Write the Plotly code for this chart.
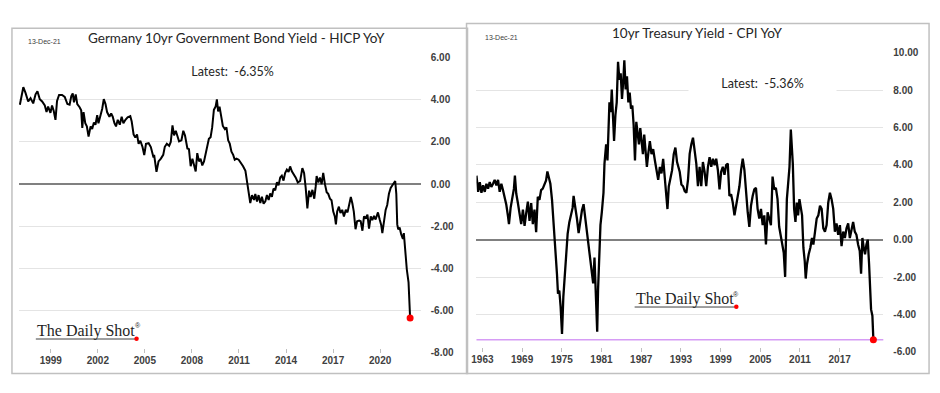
import plotly.graph_objects as go

W, H = 940, 393


def px(x):
    return x / W


def py(y):
    return 1 - y / H


# ---------------- data ----------------
de_year = [1997.03, 1997.25, 1997.39, 1997.56, 1997.71, 1997.88, 1998.03, 1998.15, 1998.30, 1998.45,
           1998.62, 1998.73, 1998.83, 1998.98, 1999.08, 1999.19, 1999.30, 1999.40, 1999.53, 1999.72,
           1999.89, 2000.06, 2000.20, 2000.31, 2000.40, 2000.48, 2000.59, 2000.69, 2000.84, 2000.94,
           2001.01, 2001.09, 2001.20, 2001.30, 2001.41, 2001.54, 2001.64, 2001.75, 2001.85, 2001.96,
           2002.04, 2002.15, 2002.28, 2002.38, 2002.49, 2002.59, 2002.74, 2002.85, 2002.95, 2003.06,
           2003.16, 2003.27, 2003.40, 2003.52, 2003.63, 2003.76, 2003.90, 2004.07, 2004.16, 2004.28,
           2004.39, 2004.50, 2004.60, 2004.71, 2004.85, 2004.96, 2005.07, 2005.24, 2005.38, 2005.55,
           2005.59, 2005.74, 2005.87, 2006.02, 2006.17, 2006.27, 2006.40, 2006.55, 2006.65, 2006.76,
           2006.86, 2006.97, 2007.07, 2007.18, 2007.33, 2007.45, 2007.56, 2007.71, 2007.81, 2007.92,
           2008.03, 2008.13, 2008.24, 2008.34, 2008.45, 2008.55, 2008.66, 2008.77, 2008.87, 2008.98,
           2009.08, 2009.19, 2009.29, 2009.40, 2009.51, 2009.59, 2009.67, 2009.76, 2009.86, 2009.97,
           2010.10, 2010.20, 2010.31, 2010.41, 2010.52, 2010.63, 2010.73, 2010.84, 2010.98, 2011.13,
           2011.26, 2011.41, 2011.51, 2011.62, 2011.72, 2011.83, 2011.96, 2012.04, 2012.15, 2012.25,
           2012.36, 2012.46, 2012.57, 2012.68, 2012.78, 2012.89, 2012.99, 2013.10, 2013.20, 2013.31,
           2013.42, 2013.52, 2013.63, 2013.73, 2013.84, 2013.94, 2014.05, 2014.16, 2014.26, 2014.37,
           2014.47, 2014.62, 2014.75, 2014.90, 2015.04, 2015.15, 2015.25, 2015.36, 2015.47, 2015.57,
           2015.68, 2015.80, 2015.89, 2015.95, 2016.06, 2016.16, 2016.27, 2016.37, 2016.48, 2016.59,
           2016.69, 2016.80, 2016.90, 2017.01, 2017.11, 2017.18, 2017.26, 2017.37, 2017.47, 2017.58,
           2017.69, 2017.81, 2017.92, 2018.02, 2018.13, 2018.23, 2018.32, 2018.43, 2018.53, 2018.66,
           2018.76, 2018.87, 2018.97, 2019.08, 2019.19, 2019.29, 2019.40, 2019.50, 2019.61, 2019.71,
           2019.86, 2019.97, 2020.07, 2020.14, 2020.24, 2020.35, 2020.45, 2020.56, 2020.67, 2020.77,
           2020.88, 2020.96, 2021.03, 2021.09, 2021.15, 2021.24, 2021.34, 2021.45, 2021.51, 2021.62,
           2021.70, 2021.81, 2021.91]
de_value = [3.77, 4.60, 4.33, 3.92, 4.08, 3.83, 4.26, 4.41, 4.03, 3.92,
            3.73, 3.42, 3.68, 3.38, 3.73, 3.47, 3.05, 3.95, 4.23, 4.23,
            4.14, 3.80, 3.77, 4.18, 4.30, 3.88, 4.26, 3.80, 3.65, 3.50,
            2.67, 3.42, 2.89, 2.74, 2.26, 2.74, 2.62, 2.92, 2.82, 3.27,
            2.89, 3.17, 3.58, 4.03, 3.80, 3.42, 3.20, 3.35, 3.20, 2.89,
            2.74, 3.05, 2.82, 3.20, 2.89, 3.05, 3.17, 3.23, 2.97, 2.36,
            2.21, 2.36, 1.91, 2.06, 1.76, 1.38, 1.91, 1.94, 1.76, 1.26,
            1.39, 0.58, 1.08, 1.21, 1.39, 1.77, 1.92, 1.82, 2.00, 2.79,
            2.31, 2.53, 2.23, 2.03, 2.08, 2.53, 2.31, 1.69, 1.66, 0.85,
            1.21, 0.85, 0.60, 1.47, 1.08, 1.21, 0.89, 1.08, 1.47, 1.85,
            2.15, 2.23, 2.69, 3.53, 3.68, 4.02, 3.45, 3.68, 3.22, 2.76,
            2.61, 2.69, 2.08, 1.92, 1.54, 1.39, 1.16, 1.21, 1.16, 1.01,
            0.85, 0.63, 0.17, -0.29, -0.90, -0.52, -0.75, -0.47, -0.82, -0.52,
            -0.90, -0.60, -0.93, -0.82, -0.52, -0.75, -0.44, -0.60, -0.21, -0.29,
            0.09, -0.06, 0.32, 0.40, 0.17, 0.53, 0.69, 0.58, 0.84, 0.61,
            0.49, 0.31, 0.08, 0.15, 0.76, 0.53, -0.15, -1.15, -0.31, -0.61,
            -0.27, -0.69, -0.12, 0.38, 0.08, 0.31, 0.00, 0.53, 0.00, -0.38,
            -0.46, -0.69, -0.76, -1.30, -1.53, -1.91, -1.30, -1.07, -1.37, -1.22,
            -1.53, -1.22, -1.34, -0.92, -0.61, -0.92, -1.30, -2.14, -1.76, -1.73,
            -1.76, -2.21, -1.53, -1.60, -1.45, -2.11, -1.53, -1.71, -1.50, -1.68,
            -1.34, -1.68, -1.95, -2.32, -1.68, -1.22, -0.99, -0.46, -0.18, -0.05,
            0.08, 0.15, -0.46, -1.91, -2.14, -2.06, -2.37, -2.60, -2.32, -3.66,
            -4.05, -4.66, -6.35]

us_year = [1962.10, 1962.35, 1962.60, 1962.85, 1963.10, 1963.35, 1963.60, 1963.85, 1964.10, 1964.35,
           1964.60, 1964.85, 1965.11, 1965.36, 1965.61, 1965.86, 1966.11, 1966.36, 1966.61, 1966.86,
           1967.01, 1967.26, 1967.51, 1967.76, 1967.91, 1968.11, 1968.36, 1968.61, 1968.86, 1969.12,
           1969.37, 1969.62, 1969.87, 1970.12, 1970.37, 1970.62, 1970.87, 1971.12, 1971.37, 1971.62,
           1971.87, 1972.12, 1972.37, 1972.62, 1972.82, 1973.02, 1973.27, 1973.52, 1973.77, 1974.02,
           1974.27, 1974.42, 1974.62, 1974.82, 1975.03, 1975.23, 1975.43, 1975.63, 1975.88, 1976.13,
           1976.38, 1976.63, 1976.78, 1977.04, 1977.29, 1977.54, 1977.79, 1978.04, 1978.29, 1978.54,
           1978.79, 1979.04, 1979.29, 1979.54, 1979.74, 1979.94, 1980.14, 1980.35, 1980.48, 1980.64,
           1980.84, 1981.05, 1981.30, 1981.45, 1981.70, 1981.90, 1982.05, 1982.20, 1982.40, 1982.55,
           1982.75, 1982.90, 1983.10, 1983.30, 1983.50, 1983.70, 1983.90, 1984.10, 1984.30, 1984.45,
           1984.65, 1984.85, 1985.06, 1985.26, 1985.46, 1985.66, 1985.86, 1986.06, 1986.26, 1986.46,
           1986.66, 1986.86, 1987.06, 1987.26, 1987.46, 1987.66, 1987.86, 1988.06, 1988.31, 1988.56,
           1988.81, 1989.07, 1989.32, 1989.57, 1989.82, 1990.07, 1990.32, 1990.57, 1990.82, 1990.97,
           1991.17, 1991.42, 1991.67, 1991.92, 1992.17, 1992.42, 1992.57, 1992.82, 1993.08, 1993.33,
           1993.58, 1993.83, 1994.08, 1994.33, 1994.58, 1994.83, 1995.08, 1995.33, 1995.58, 1995.83,
           1996.08, 1996.33, 1996.58, 1996.83, 1997.09, 1997.34, 1997.59, 1997.84, 1998.09, 1998.34,
           1998.59, 1998.84, 1999.09, 1999.34, 1999.59, 1999.84, 2000.09, 2000.34, 2000.59, 2000.84,
           2001.10, 2001.35, 2001.60, 2001.85, 2002.10, 2002.35, 2002.60, 2002.85, 2003.10, 2003.35,
           2003.60, 2003.85, 2004.10, 2004.35, 2004.60, 2004.85, 2005.11, 2005.36, 2005.61, 2005.86,
           2006.11, 2006.36, 2006.61, 2006.86, 2007.11, 2007.36, 2007.61, 2007.86, 2008.11, 2008.36,
           2008.55, 2008.76, 2008.88, 2009.02, 2009.22, 2009.42, 2009.62, 2009.77, 2009.92, 2010.12,
           2010.32, 2010.52, 2010.72, 2010.92, 2011.12, 2011.32, 2011.52, 2011.72, 2011.87, 2012.07,
           2012.32, 2012.57, 2012.82, 2013.03, 2013.28, 2013.53, 2013.78, 2014.03, 2014.28, 2014.53,
           2014.78, 2015.03, 2015.28, 2015.53, 2015.78, 2016.03, 2016.28, 2016.53, 2016.78, 2017.04,
           2017.29, 2017.54, 2017.79, 2018.04, 2018.29, 2018.54, 2018.79, 2019.04, 2019.29, 2019.54,
           2019.79, 2020.04, 2020.24, 2020.44, 2020.64, 2020.84, 2021.05, 2021.25, 2021.45, 2021.60,
           2021.75, 2021.95, 2022.10]
us_value = [3.43, 2.56, 3.08, 2.51, 2.91, 2.56, 2.99, 2.73, 3.08, 2.82,
            2.99, 3.20, 2.91, 3.20, 2.56, 2.99, 2.65, 2.30, 1.87, 1.26,
            0.83, 1.70, 2.30, 2.73, 3.43, 2.47, 1.96, 1.26, 0.83, 1.61,
            0.74, 1.44, 2.04, 1.00, 1.96, 0.83, 1.61, 0.40, 2.30, 2.13,
            2.65, 2.73, 2.99, 3.17, 3.65, 3.34, 2.99, 2.13, 0.92, -0.47,
            -1.85, -2.89, -2.72, -3.58, -5.05, -3.06, -1.85, -0.81, 0.31, 0.92,
            1.35, 1.70, 2.34, 1.82, 1.12, 0.35, 1.12, 1.56, 1.90, 1.21,
            0.43, -0.09, -0.78, -1.64, -2.34, -0.95, -3.03, -4.93, -2.68, -0.78,
            0.78, 1.47, 2.51, 4.07, 5.10, 4.24, 6.14, 7.35, 6.83, 8.04,
            6.49, 5.28, 6.66, 7.35, 9.52, 8.56, 8.91, 7.53, 8.56, 9.60,
            8.04, 8.74, 7.35, 7.87, 7.01, 7.18, 6.14, 4.24, 6.31, 5.80,
            5.10, 5.97, 5.28, 4.58, 5.62, 4.76, 3.89, 4.58, 5.28, 4.58,
            4.84, 4.24, 3.63, 3.20, 3.89, 3.55, 4.33, 3.37, 2.51, 1.64,
            2.85, 3.37, 3.72, 4.58, 4.93, 4.15, 3.90, 3.64, 2.95, 2.86,
            2.60, 2.51, 3.21, 4.59, 5.11, 5.46, 4.77, 4.07, 2.86, 3.90,
            2.86, 4.16, 3.64, 2.86, 3.90, 4.42, 3.90, 4.33, 3.99, 4.33,
            3.73, 2.69, 3.64, 3.90, 3.47, 3.99, 4.07, 2.34, 2.43, 1.99,
            1.30, 1.82, 2.34, 2.86, 3.73, 4.33, 3.73, 2.51, 1.47, 0.69,
            1.82, 2.34, 2.69, 2.77, 1.65, 1.13, 1.65, 0.78, 1.30, -0.26,
            1.47, 1.13, 0.78, 3.38, 2.69, 2.77, 2.17, 0.69, 0.09, -0.26,
            -0.70, -1.99, -0.43, 2.17, 3.03, 3.90, 5.89, 4.94, 4.07, 1.65,
            0.95, 1.99, 1.30, 2.17, 1.65, 1.30, -0.43, -1.13, -2.08, -1.30,
            -0.78, -0.43, 0.09, -0.26, 0.43, 1.13, 1.30, 1.82, 1.65, 0.61,
            0.43, 0.78, 1.99, 2.51, 2.17, 1.65, 0.43, 0.87, 0.26, 0.78,
            -0.35, 0.43, 0.09, 0.61, 0.87, 0.09, 0.52, 0.95, 0.43, 0.26,
            -0.26, -0.61, -1.82, 0.09, -0.43, -0.78, -0.26, 0.00, -1.30, -2.69,
            -3.73, -4.07, -5.36]

de_latest = -6.35
us_latest = -5.36

de_title = "Germany 10yr Government Bond Yield - HICP YoY"
us_title = "10yr Treasury Yield - CPI YoY"
date_label = "13-Dec-21"

de_xticks = [1999, 2002, 2005, 2008, 2011, 2014, 2017, 2020]
us_xticks = [1963, 1969, 1975, 1981, 1987, 1993, 1999, 2005, 2011, 2017]
de_yticks = [-8, -6, -4, -2, 0, 2, 4, 6]
de_yticklabels = ["-8.00", "-6.00", "-4.00", "-2.00", "0.00", "2.00", "4.00", "6.00"]
us_yticks = [-6, -4, -2, 0, 2, 4, 6, 8, 10]
us_yticklabels = ["-6.00", "-4.00", "-2.00", "0.00", "2.00", "4.00", "6.00", "8.00", "10.00"]

# ---------------- figure ----------------
fig = go.Figure()
fig.add_trace(go.Scatter(x=de_year, y=de_value, mode="lines", line=dict(color="black", width=2),
                         xaxis="x", yaxis="y", hoverinfo="skip"))
fig.add_trace(go.Scatter(x=[de_year[-1]], y=[de_latest], mode="markers",
                         marker=dict(color="#ff0000", size=7), xaxis="x", yaxis="y"))
fig.add_trace(go.Scatter(x=us_year, y=us_value, mode="lines", line=dict(color="black", width=2.3),
                         xaxis="x2", yaxis="y2", hoverinfo="skip"))
fig.add_trace(go.Scatter(x=[us_year[-1]], y=[us_latest], mode="markers",
                         marker=dict(color="#ff0000", size=7), xaxis="x2", yaxis="y2"))

tickfont = dict(family="Liberation Sans", size=10, color="#404040", weight="bold")
grid = "#e4e4e4"
zero = "#808080"

xcommon = dict(showgrid=False, zeroline=False, showline=False, ticks="inside", ticklen=4,
               tickcolor="#bfbfbf", tickwidth=1, tickfont=tickfont, fixedrange=True)
ycommon = dict(side="right", showgrid=True, gridcolor=grid, gridwidth=1, zeroline=True,
               zerolinecolor=zero, zerolinewidth=1.5, showline=False, ticks="",
               tickfont=tickfont, ticklabelstandoff=9, fixedrange=True)

fig.update_layout(
    width=W, height=H,
    margin=dict(l=0, r=0, t=0, b=0, pad=0),
    paper_bgcolor="white", plot_bgcolor="white",
    showlegend=False,
    xaxis=dict(domain=[px(14), px(418)], range=[1996.97, 2022.59], anchor="y",
               tickvals=de_xticks, ticktext=[str(v) for v in de_xticks], **xcommon),
    yaxis=dict(domain=[py(357.7), py(53.3)], range=[-8, 6], anchor="x",
               tickvals=de_yticks, ticktext=de_yticklabels, **ycommon),
    xaxis2=dict(domain=[px(474), px(883)], range=[1962.10, 2023.60], anchor="y2",
                tickvals=us_xticks, ticktext=[str(v) for v in us_xticks], **xcommon),
    yaxis2=dict(domain=[py(356.7), py(48.3)], range=[-6, 10], anchor="x2",
                tickvals=us_yticks, ticktext=us_yticklabels, **ycommon),
)

shapes = [
    # panel borders
    dict(type="rect", xref="paper", yref="paper", x0=px(7), x1=px(465), y0=py(379), y1=py(23),
         line=dict(color="#c0c0c0", width=1.5), layer="above"),
    dict(type="rect", xref="paper", yref="paper", x0=px(464), x1=px(929), y0=py(379), y1=py(18),
         line=dict(color="#c0c0c0", width=1.5), layer="above"),
    # latest-value reference line on the right chart
    dict(type="line", xref="x2 domain", yref="y2", x0=0, x1=1, y0=us_latest, y1=us_latest,
         line=dict(color="#d69cf5", width=1.5), layer="below"),
    # logo underlines and dots
    dict(type="line", xref="paper", yref="paper", x0=px(31), x1=px(131), y0=py(343.5), y1=py(343.5),
         line=dict(color="#404040", width=1)),
    dict(type="circle", xref="paper", yref="paper", x0=px(130), x1=px(134.5), y0=py(345.5), y1=py(341),
         fillcolor="#ff0000", line=dict(width=0)),
    dict(type="line", xref="paper", yref="paper", x0=px(633), x1=px(734), y0=py(310.5), y1=py(310.5),
         line=dict(color="#404040", width=1)),
    dict(type="circle", xref="paper", yref="paper", x0=px(733), x1=px(737.5), y0=py(312.5), y1=py(308),
         fillcolor="#ff0000", line=dict(width=0)),
]
fig.update_layout(shapes=shapes)

title_font = dict(family="Lato", size=13.5, color="#262626")
latest_font = dict(family="Lato", size=12.5, color="#262626")
logo_font = dict(family="Liberation Serif", size=16, color="#1f1f1f")
reg_font = dict(family="Liberation Sans", size=7, color="#1f1f1f")
small_font = dict(family="Liberation Sans", size=7, color="#404040")

ann = [
    dict(text=de_title, x=px(233), y=py(33), font=title_font),
    dict(text=us_title, x=px(696), y=py(28), font=title_font),
    dict(text=date_label, x=px(21), y=py(37), xanchor="left", font=small_font),
    dict(text=date_label, x=px(481), y=py(33), xanchor="left", font=small_font),
    dict(text="Latest:  %.2f%%" % de_latest, x=px(228.5), y=py(67), width=143, height=30,
         bgcolor="white", font=latest_font),
    dict(text="Latest:  %.2f%%" % us_latest, x=px(761.5), y=py(79), width=145, height=30,
         bgcolor="white", font=latest_font),
    dict(text="The Daily Shot", x=px(30), y=py(335), xanchor="left", font=logo_font),
    dict(text="®", x=px(133.5), y=py(330), font=reg_font),
    dict(text="The Daily Shot", x=px(632), y=py(302), xanchor="left", font=logo_font),
    dict(text="®", x=px(735), y=py(298), font=reg_font),
]
for a in ann:
    a.setdefault("xanchor", "center")
    a.update(xref="paper", yref="paper", yanchor="middle", showarrow=False)
fig.update_layout(annotations=ann)

# remove the browser's default page margin so the 940x393 figure fills the window exactly
page_css = ("document.body.style.margin='0';document.body.style.padding='0';"
            "document.documentElement.style.overflow='hidden';")
fig.write_html("out.html", post_script=page_css, config={"displayModeBar": False})
